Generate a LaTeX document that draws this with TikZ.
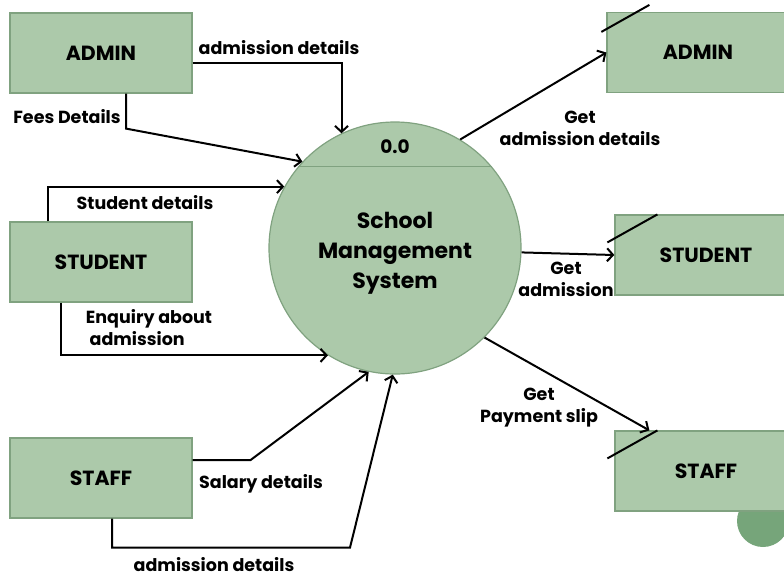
\documentclass[tikz,border=0pt]{standalone}
\usepackage{fontspec}
\setmainfont{Poppins}
\usetikzlibrary{arrows.meta}
\definecolor{sage}{RGB}{172,201,170}
\definecolor{sageline}{RGB}{128,162,128}
\definecolor{sagedark}{RGB}{118,165,122}
\begin{document}
\begin{tikzpicture}[x=1pt,y=-1pt,
  ent/.style={draw=sageline,fill=sage,line width=1.2pt,minimum width=182pt,minimum height=80pt,
    font=\fontsize{20.5}{24}\selectfont\bfseries},
  lbl/.style={font=\fontsize{17.5}{22}\selectfont\bfseries,align=center,inner sep=0pt},
  flow/.style={line width=2pt,-{Straight Barb[length=6pt,width=13pt]}},
  slash/.style={line width=2pt}]
  \useasboundingbox (0,0) rectangle (784,579);

  % sources on the left
  \foreach \nm/\txt/\y in {admin/ADMIN/53,student/STUDENT/262,staff/STAFF/478}
    \node[ent] (\nm) at (101,\y) {\txt};

  % the process
  \node[circle,draw=sageline,fill=sage,line width=1.2pt,minimum size=252pt,inner sep=0pt] (sms) at (395,248) {};
  \draw[sageline,line width=1.2pt] (sms.140) -- (sms.40);
  \node[lbl,font=\fontsize{18.5}{22}\selectfont\bfseries] (pid) at (395,147) {0.0};
  \node[lbl,font=\fontsize{22}{30}\selectfont\bfseries] (smstxt) at (395,253) {School\\Management\\System};

  % stores on the right
  \fill[sagedark] (763,521) circle (26);
  \node[ent] (adminR) at (698,52.5) {ADMIN};
  \node[ent] (studentR) at (706,255) {STUDENT};
  \node[ent] (staffR) at (706,471) {STAFF};
  \draw[slash] ([shift={(-5,20)}]adminR.north west) -- ++(48,-27);
  \foreach \nm in {studentR,staffR}
    \draw[slash] ([shift={(-7,28)}]\nm.north west) -- ++(50,-28);

  % flows in
  \draw[flow] ([yshift=-10pt]admin.east) -| (sms.115);
  \draw[flow] ([xshift=25pt]admin.south) -- ++(0,35) -- (sms.137);
  \draw[flow] ([xshift=-53pt]student.north) |- (sms.151.6);
  \draw[flow] ([xshift=-40pt]student.south) |- (sms.238.5);
  \draw[flow] ([yshift=18pt]staff.east) -- ++(58,0) -- (sms.258.9);
  \draw[flow] ([xshift=11pt]staff.south) -- ++(0,29) -- ++(238,0) -- (sms.269);

  % flows out
  \draw[flow] (sms.59.4) -- (adminR.west);
  \draw[flow] (sms.358) -- (studentR.west);
  \draw[flow] (sms.315) -- ([xshift=35pt]staffR.north west);

  % labels
  \node[lbl] (l1) at (279,48) {admission details};
  \node[lbl] (l2) at (67,117) {Fees Details};
  \node[lbl] (l3) at (145,203) {Student details};
  \node[lbl,align=left] (l4) at (149,328) {Enquiry about\\\ admission};
  \node[lbl] (l5) at (261,484) {Salary details};
  \node[lbl] (l6) at (214,565) {admission details};
  \node[lbl] (l7) at (580,128) {Get\\admission details};
  \node[lbl] (l8) at (566,279) {Get\\admission};
  \node[lbl] (l9) at (539,408) {Get\\Payment slip};
\end{tikzpicture}
\end{document}
